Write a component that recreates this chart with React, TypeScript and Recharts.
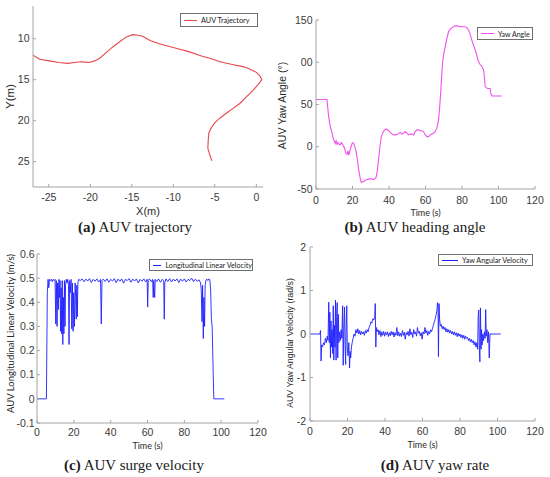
import React from 'react';
import { LineChart, Line, XAxis, YAxis } from 'recharts';

// (a) trajectory, metres
const trajX = [-5.36, -5.6, -5.84, -5.8, -5.72, -5.4, -5.04, -4.4, -3.63, -2.8, -2.0, -1.2, -0.4, 0.2, 0.66, 0.4, 0.0, -0.8, -1.63, -2.6, -3.6, -4.4, -5.24, -6.6, -8.05, -9.9, -11.7, -12.8, -13.7, -14.4, -14.9, -15.7, -16.5, -17.3, -18.1, -18.9, -19.5, -20.1, -20.6, -21.1, -21.9, -22.7, -23.8, -24.9, -26.1, -26.9];
const trajY = [24.9, 24.2, 23.4, 22.4, 21.5, 20.8, 20.3, 19.7, 19.1, 18.5, 17.9, 17.1, 16.3, 15.6, 15.0, 14.5, 14.1, 13.7, 13.4, 13.2, 13.0, 12.8, 12.5, 12.1, 11.6, 11.1, 10.6, 10.2, 9.7, 9.55, 9.5, 9.8, 10.4, 11.0, 11.7, 12.4, 12.7, 12.9, 12.85, 12.8, 12.9, 13.0, 12.9, 12.7, 12.5, 12.0];

// (b) yaw angle, degrees
const yawT = [0, 6, 6.9, 7.8, 8.8, 9.5, 10.2, 10.6, 11.0, 11.5, 12.0, 12.6, 13.3, 13.8, 14.2, 14.6, 15.1, 15.6, 16.4, 17.0, 17.5, 18.0, 18.4, 18.8, 19.3, 19.8, 20.3, 20.8, 21.2, 21.8, 22.4, 23.4, 24.2, 24.8, 26.1, 27.5, 28.8, 30.2, 31.6, 32.8, 33.5, 34.3, 35.0, 35.8, 36.7, 37.6, 38.7, 39.8, 40.7, 41.6, 42.7, 43.8, 45.0, 46.2, 47.1, 48.0, 48.9, 49.8, 50.7, 51.6, 52.6, 53.5, 54.4, 55.3, 56.2, 57.1, 58.0, 58.9, 59.9, 60.8, 61.7, 62.6, 63.5, 64.4, 65.3, 66.2, 67.2, 67.8, 68.4, 69.0, 69.5, 70.2, 70.8, 71.7, 72.6, 73.5, 74.5, 75.4, 76.3, 77.6, 79.0, 80.4, 81.8, 82.7, 83.6, 84.5, 85.4, 86.3, 87.2, 88.0, 88.7, 89.3, 90.0, 90.5, 90.9, 91.4, 91.8, 92.3, 92.7, 93.3, 94.0, 94.7, 95.4, 95.9, 96.4, 99.0, 101.8];
const yawDeg = [56, 56, 36, 24, 16, 9, 6, 4, 7, 3, 5, 3, 2.4, 5, 4, 3, 0.4, -1, -8, -9, -5, -10, -6, -3, 0.4, 4, 5, 3, 0.4, -4, -11, -27, -37, -42, -41, -39, -38, -38, -39, -37, -30, -15, 0, 12, 17, 20, 21, 19, 17, 15, 14, 14, 15, 17, 15, 16, 18, 16, 14, 15, 15, 14, 18, 20, 20, 19, 19, 18, 14, 12, 12, 14, 15, 16, 18, 22, 32, 48, 67, 88, 103, 112, 118.5, 128, 136, 139, 141, 142, 143, 143, 142, 142, 142, 141, 138, 133, 126, 120, 115, 109, 103, 100, 97, 96, 95, 93, 91, 82, 71, 70, 69, 69, 69, 62, 60, 60, 60];

// (c) surge velocity, m/s
const surgeT = [0, 5.1, 5.6, 6.0, 6.4, 6.8, 7.3, 7.8, 8.3, 8.8, 9.3, 9.8, 10.2, 10.5, 10.9, 11.2, 11.6, 11.9, 12.2, 12.5, 12.8, 13.1, 13.4, 13.7, 14.0, 14.3, 14.6, 14.9, 15.2, 15.5, 15.9, 16.3, 16.7, 17.1, 17.4, 17.7, 18.1, 18.5, 18.9, 19.2, 19.6, 19.9, 20.3, 20.7, 21.0, 21.3, 21.6, 21.9, 22.2, 22.6, 23.5, 24.5, 25.5, 26.5, 27.5, 28.5, 29.5, 30.5, 31.5, 32.5, 33.5, 34.5, 34.9, 35.3, 36, 37, 38, 39, 40, 41, 42, 43, 44, 45, 46, 47, 48, 49, 50, 51, 52, 53, 54, 55, 56, 57, 58, 59, 59.8, 60.1, 60.4, 61, 62, 62.8, 63.1, 63.4, 63.9, 64.2, 65, 66, 67, 68, 68.8, 69.1, 69.4, 70, 71, 72, 73, 74, 75, 76, 77, 78, 79, 80, 81, 82, 83, 84, 85, 86, 87, 88, 88.8, 89.2, 89.6, 89.9, 90.3, 90.6, 91.0, 91.3, 91.7, 92.2, 92.8, 93.4, 93.9, 94.3, 94.7, 95.1, 95.4, 95.7, 96.0, 101.7];
const surgeV = [0, 0, 0.44, 0.495, 0.46, 0.495, 0.49, 0.495, 0.485, 0.495, 0.49, 0.495, 0.31, 0.49, 0.3, 0.48, 0.37, 0.495, 0.42, 0.49, 0.28, 0.46, 0.27, 0.49, 0.225, 0.42, 0.27, 0.49, 0.3, 0.47, 0.495, 0.48, 0.495, 0.47, 0.225, 0.49, 0.44, 0.495, 0.29, 0.48, 0.28, 0.44, 0.3, 0.48, 0.42, 0.33, 0.47, 0.34, 0.48, 0.495, 0.49, 0.497, 0.485, 0.496, 0.488, 0.498, 0.482, 0.495, 0.487, 0.497, 0.484, 0.495, 0.31, 0.49, 0.496, 0.486, 0.497, 0.483, 0.495, 0.488, 0.498, 0.481, 0.496, 0.487, 0.497, 0.479, 0.495, 0.49, 0.498, 0.483, 0.496, 0.488, 0.497, 0.48, 0.495, 0.487, 0.497, 0.484, 0.495, 0.38, 0.49, 0.497, 0.485, 0.495, 0.42, 0.49, 0.42, 0.495, 0.486, 0.497, 0.483, 0.495, 0.49, 0.33, 0.48, 0.497, 0.486, 0.498, 0.484, 0.496, 0.488, 0.497, 0.482, 0.496, 0.487, 0.497, 0.484, 0.495, 0.49, 0.5, 0.485, 0.496, 0.487, 0.493, 0.48, 0.45, 0.32, 0.47, 0.25, 0.42, 0.3, 0.47, 0.49, 0.496, 0.49, 0.497, 0.49, 0.45, 0.33, 0.3, 0.2, 0.1, 0, 0];

// (d) yaw rate, rad/s
const rateT = [0, 5.3, 5.6, 5.9, 6.2, 6.7, 7.2, 7.7, 8.2, 8.7, 9.2, 9.6, 10.0, 10.3, 10.6, 10.9, 11.2, 11.5, 11.8, 12.1, 12.4, 12.7, 13.0, 13.3, 13.6, 13.9, 14.2, 14.5, 14.8, 15.1, 15.4, 15.8, 16.2, 16.6, 17.0, 17.4, 17.7, 18.0, 18.4, 18.7, 19.0, 19.3, 19.6, 19.9, 20.3, 20.7, 21.1, 21.4, 21.7, 22.1, 22.5, 23.0, 23.5, 24.0, 24.5, 25.0, 25.5, 26.0, 26.5, 27.0, 27.5, 28.0, 28.5, 29.0, 29.5, 30.0, 30.5, 31.0, 31.5, 32.0, 32.5, 33.0, 33.5, 34.0, 34.5, 34.8, 35.1, 35.4, 35.8, 36.3, 36.8, 37.3, 37.8, 38.3, 38.8, 39.3, 39.8, 40.3, 40.8, 41.3, 41.8, 42.3, 42.8, 43.3, 43.8, 44.3, 44.8, 45.3, 45.8, 46.3, 46.8, 47.3, 47.8, 48.3, 48.8, 49.3, 49.8, 50.3, 50.8, 51.3, 51.8, 52.3, 52.8, 53.3, 53.8, 54.3, 54.8, 55.3, 55.8, 56.3, 56.8, 57.3, 57.8, 58.3, 58.8, 59.3, 59.8, 60.3, 60.8, 61.3, 61.8, 62.3, 62.8, 63.3, 63.8, 64.3, 64.8, 65.3, 65.8, 66.3, 66.8, 67.3, 67.7, 68.0, 68.3, 68.5, 68.8, 69.1, 69.5, 70.0, 70.5, 71.0, 71.5, 72.0, 72.5, 73.0, 73.5, 74.0, 74.5, 75.0, 75.5, 76.0, 76.5, 77.0, 77.5, 78.0, 78.5, 79.0, 79.5, 80.0, 80.5, 81.0, 81.5, 82.0, 82.5, 83.0, 83.5, 84.0, 84.5, 85.0, 85.5, 86.0, 86.5, 87.0, 87.5, 88.0, 88.5, 89.0, 89.4, 89.7, 90.0, 90.3, 90.6, 90.9, 91.2, 91.5, 91.8, 92.2, 92.6, 93.0, 93.4, 93.7, 94.0, 94.4, 94.8, 95.2, 95.6, 96.0, 101.7];
const rateV = [0, 0, 0.08, -0.62, -0.25, -0.3, -0.2, -0.25, -0.1, -0.2, -0.05, -0.15, 0.73, -0.2, 0.5, -0.55, 0.3, -0.3, 0.1, -0.45, 0.65, -0.6, 0.2, -0.3, 0.78, -0.6, 0.4, 0.72, -0.55, 0.45, -0.2, 0.05, -0.15, 0.1, -0.1, 0.65, -0.72, 0.1, 0.62, -0.25, -0.7, 0.2, 0.65, -0.35, -0.5, -0.2, -0.78, -0.4, -0.55, -0.3, -0.2, -0.1, 0.0, -0.05, 0.1, 0.02, 0.12, 0.0, 0.08, -0.02, 0.06, 0.0, 0.05, -0.03, 0.08, 0.02, 0.1, 0.05, 0.15, 0.2, 0.28, 0.25, 0.35, 0.32, 0.4, 0.7, -0.3, 0.15, 0.05, 0.1, -0.02, 0.08, -0.06, 0.05, -0.03, 0.06, -0.05, 0.04, -0.02, 0.05, -0.06, 0.03, -0.04, 0.06, -0.02, 0.05, -0.07, 0.03, -0.03, 0.15, -0.04, 0.05, -0.05, 0.02, -0.06, 0.08, -0.03, 0.04, -0.12, 0.03, -0.02, 0.06, -0.05, 0.12, -0.02, 0.04, -0.08, 0.1, 0.0, 0.05, -0.05, 0.15, 0.02, 0.06, -0.04, 0.03, -0.12, 0.05, 0.0, 0.15, 0.02, 0.08, -0.03, 0.06, 0.0, 0.1, 0.05, 0.12, 0.2, 0.28, 0.35, 0.45, 0.55, 0.72, 0.6, -0.52, 0.7, 0.35, 0.18, 0.22, 0.12, 0.18, 0.1, 0.15, 0.05, 0.12, 0.04, 0.1, 0.02, 0.08, 0.0, 0.06, -0.02, 0.05, -0.03, 0.03, -0.06, 0.02, -0.05, 0.0, -0.08, -0.02, -0.1, -0.03, -0.12, -0.05, -0.1, -0.08, -0.15, -0.1, -0.18, -0.12, -0.2, -0.15, -0.25, -0.18, -0.3, -0.2, -0.35, 0.4, 0.55, -0.3, -0.64, 0.6, -0.35, 0.1, -0.25, 0.0, -0.15, 0.05, -0.1, 0.56, -0.05, 0.1, -0.2, 0.05, -0.55, 0, 0];

const timeTicks = [0, 20, 40, 60, 80, 100, 120];
const trajXTicks = [-25, -20, -15, -10, -5, 0];
const trajYTicks = [10, 15, 20, 25];
const yawTicks = [-50, 0, 50, 100, 150];
const surgeTicks = [-0.1, 0, 0.1, 0.2, 0.3, 0.4, 0.5, 0.6];
const rateTicks = [-2, -1, 0, 1, 2];

const AXIS = '#a4a4a4';
const TICK_TEXT = '#3a3a3a';
const SANS = '"Liberation Sans", Arial, sans-serif';
const LEGEND_FONT = 'Lato, "Liberation Sans", sans-serif';

const pairs = (xs: number[], ys: number[]) => xs.map((x, i) => ({ x, y: ys[i] }));

const sideLabel = (text: string, dx: number, dy: number, size: number, family = SANS) =>
  (props: any) => {
    const vb = props.viewBox || {};
    const cx = vb.x + dx;
    const cy = vb.y + vb.height / 2 + dy;
    return (
      <text x={cx} y={cy} transform={`rotate(-90 ${cx} ${cy})`} textAnchor="middle"
        dominantBaseline="central" fill="#2a2a2a" fontSize={size} fontFamily={family}>
        {text}
      </text>
    );
  };

interface LegendBoxProps {
  name: string; color: string; left: number; top: number; width: number; height: number;
  swatch: number; size: number;
}

function LegendBox({ name, color, left, top, width, height, swatch, size }: LegendBoxProps) {
  return (
    <div style={{
      position: 'absolute', left, top, width, height, boxSizing: 'border-box',
      border: '1px solid #707070', background: '#fff', display: 'flex', alignItems: 'center',
      paddingLeft: 3, fontFamily: LEGEND_FONT, fontSize: size, color: '#222', whiteSpace: 'nowrap',
    }}>
      <span style={{ display: 'inline-block', width: swatch, height: 0, borderTop: `1.3px solid ${color}`, marginRight: 4 }} />
      {name}
    </div>
  );
}

interface PanelProps {
  left: number; top: number; width: number; height: number;
  margin: { top: number; right: number; bottom: number; left: number };
  data: { x: number; y: number }[];
  color: string; strokeWidth: number; name: string;
  xDomain: [number, number]; xTicks: number[]; xTickMargin: number;
  yDomain: [number, number]; yTicks: number[]; yReversed?: boolean; yTickMargin: number;
  yFormat?: (v: number) => string;
  yAxisWidth: number;
  xLabel: string; xLabelSize: number; xLabelFont: string; xLabelOffset: number;
  yLabel: string; yLabelSize: number; yLabelFont?: string; yLabelDx: number; yLabelDy: number;
  legend: { left: number; top: number; width: number; height: number; swatch: number; size: number };
}

function Panel(p: PanelProps) {
  const tick = { fill: TICK_TEXT, fontSize: 10.5, fontFamily: SANS };
  const blank = () => '';
  return (
    <div style={{ position: 'absolute', left: p.left, top: p.top, width: p.width, height: p.height }}>
      <LineChart width={p.width} height={p.height} data={p.data} margin={p.margin}>
        <XAxis dataKey="x" type="number" domain={p.xDomain} ticks={p.xTicks} allowDataOverflow
          stroke={AXIS} tickSize={-3} tickMargin={p.xTickMargin} tick={tick} height={30}
          label={{ value: p.xLabel, position: 'insideBottom', offset: p.xLabelOffset, fill: '#2a2a2a', fontSize: p.xLabelSize, fontFamily: p.xLabelFont }} />
        <XAxis xAxisId="top" orientation="top" dataKey="x" type="number" domain={p.xDomain} ticks={p.xTicks}
          allowDataOverflow stroke={AXIS} tickSize={-3} tickFormatter={blank} height={0} />
        <YAxis type="number" domain={p.yDomain} ticks={p.yTicks} reversed={p.yReversed} allowDataOverflow
          stroke={AXIS} tickSize={-3} tickMargin={p.yTickMargin} tick={tick} width={p.yAxisWidth}
          tickFormatter={p.yFormat} interval={0}
          label={{ content: sideLabel(p.yLabel, p.yLabelDx, p.yLabelDy, p.yLabelSize, p.yLabelFont) }} />
        <YAxis yAxisId="right" orientation="right" type="number" domain={p.yDomain} ticks={p.yTicks}
          reversed={p.yReversed} allowDataOverflow stroke={AXIS} tickSize={-3} tickFormatter={blank} width={0} />
        <Line type="linear" dataKey="y" name={p.name} stroke={p.color} strokeWidth={p.strokeWidth}
          dot={false} isAnimationActive={false} />
      </LineChart>
      <LegendBox name={p.name} color={p.color} {...p.legend} />
    </div>
  );
}

function Caption({ tag, text, cx, cy }: { tag: string; text: string; cx: number; cy: number }) {
  return (
    <div style={{
      position: 'absolute', left: cx - 137, top: cy - 9, width: 274, height: 18, lineHeight: '18px',
      textAlign: 'center', fontFamily: '"Liberation Serif", "DejaVu Serif", serif', fontSize: 15, color: '#1a1a1a',
    }}>
      <b>{tag}</b> {text}
    </div>
  );
}

export default function App() {
  return (
    <div style={{ position: 'absolute', left: 0, top: 0, width: 550, height: 477, background: '#fff', overflow: 'hidden' }}>
      <Panel left={0} top={0} width={275} height={237} margin={{ top: 6, right: 12, bottom: 20, left: 0 }}
        data={pairs(trajX, trajY)} color="#e8474a" strokeWidth={1.1} name="AUV Trajectory"
        xDomain={[-26.9, 0.8]} xTicks={trajXTicks} xTickMargin={9.5}
        yDomain={[6, 28.1]} yTicks={trajYTicks} yReversed yTickMargin={6.5} yAxisWidth={33}
        xLabel="X(m)" xLabelSize={11} xLabelFont={SANS} xLabelOffset={2}
        yLabel="Y(m)" yLabelSize={11.5} yLabelDx={10} yLabelDy={0}
        legend={{ left: 180, top: 13, width: 78, height: 14, swatch: 13, size: 7.3 }} />
      <Panel left={275} top={0} width={275} height={237} margin={{ top: 20, right: 15, bottom: 18, left: 0 }}
        data={pairs(yawT, yawDeg)} color="#f050f0" strokeWidth={1.1} name="Yaw Angle"
        xDomain={[0, 120]} xTicks={timeTicks} xTickMargin={10.5}
        yDomain={[-50, 150]} yTicks={yawTicks} yTickMargin={6.5} yAxisWidth={41}
        yFormat={(v) => (v === 100 ? '00' : String(v))}
        xLabel="Time (s)" xLabelSize={9} xLabelFont={LEGEND_FONT} xLabelOffset={3}
        yLabel="AUV Yaw Angle (°)" yLabelSize={10.5} yLabelDx={7} yLabelDy={1}
        legend={{ left: 202, top: 27, width: 56, height: 13, swatch: 13, size: 7 }} />
      <Panel left={0} top={237} width={275} height={240} margin={{ top: 17, right: 17, bottom: 24, left: 0 }}
        data={pairs(surgeT, surgeV)} color="#1f1fff" strokeWidth={0.9} name="Longitudinal Linear Velocity"
        xDomain={[0, 120]} xTicks={timeTicks} xTickMargin={8.5}
        yDomain={[-0.1, 0.6]} yTicks={surgeTicks} yTickMargin={5.5} yAxisWidth={37}
        xLabel="Time (s)" xLabelSize={9} xLabelFont={LEGEND_FONT} xLabelOffset={4}
        yLabel="AUV Longitudinal Linear Velocity (m/s)" yLabelSize={9.5} yLabelFont={LEGEND_FONT} yLabelDx={10} yLabelDy={-5}
        legend={{ left: 149, top: 22, width: 104, height: 12, swatch: 11, size: 7.2 }} />
      <Panel left={275} top={237} width={275} height={240} margin={{ top: 10, right: 15, bottom: 26, left: 0 }}
        data={pairs(rateT, rateV)} color="#1f1fff" strokeWidth={0.9} name="Yaw Angular Velocity"
        xDomain={[0, 120]} xTicks={timeTicks} xTickMargin={9.5}
        yDomain={[-2, 2]} yTicks={rateTicks} yTickMargin={7} yAxisWidth={35}
        xLabel="Time (s)" xLabelSize={9} xLabelFont={LEGEND_FONT} xLabelOffset={3}
        yLabel="AUV Yaw Angular Velocity (rad/s)" yLabelSize={8.8} yLabelDx={15} yLabelDy={9}
        legend={{ left: 163, top: 17, width: 95, height: 12, swatch: 16, size: 7.2 }} />
      <Caption tag="(a)" text="AUV trajectory" cx={135} cy={227} />
      <Caption tag="(b)" text="AUV heading angle" cx={415} cy={227} />
      <Caption tag="(c)" text="AUV surge velocity" cx={134} cy={465} />
      <Caption tag="(d)" text="AUV yaw rate" cx={435} cy={465} />
    </div>
  );
}
